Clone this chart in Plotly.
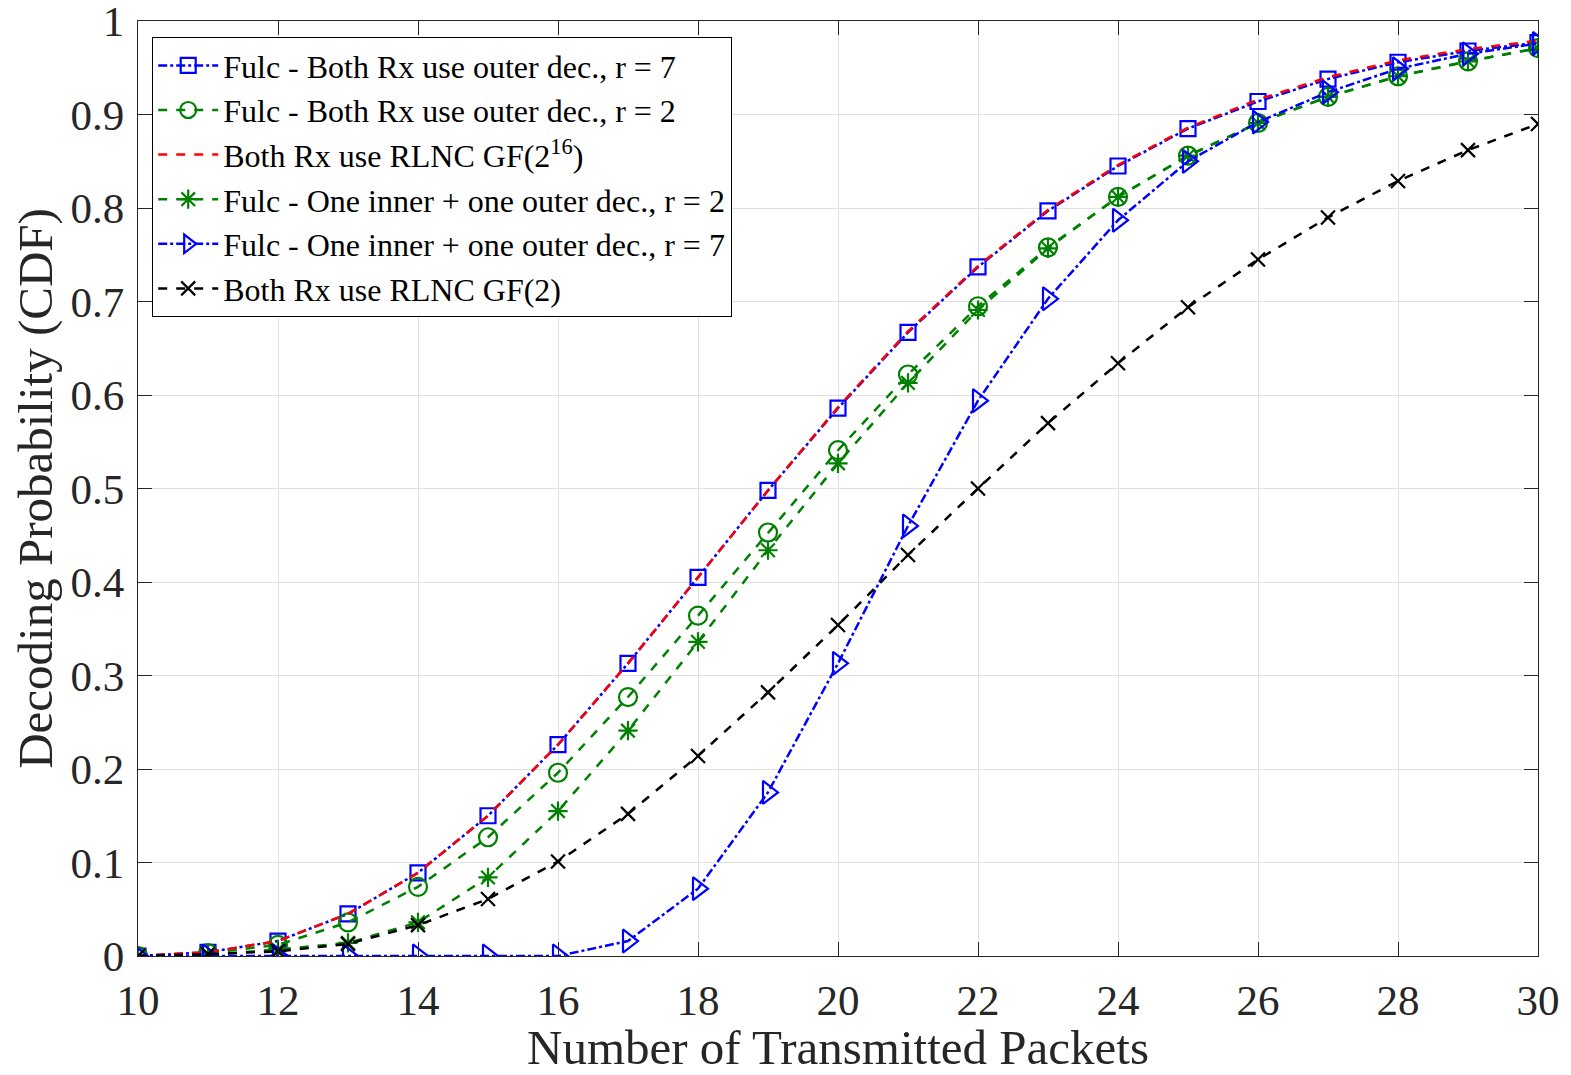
import plotly.graph_objects as go

# Number of transmitted packets
packets = list(range(10, 31))

# Decoding probability (CDF) for each scheme
fulc_outer_r7 = [0.0, 0.004, 0.016, 0.045, 0.089, 0.150, 0.226, 0.313, 0.405, 0.498,
                 0.586, 0.667, 0.737, 0.797, 0.845, 0.885, 0.914, 0.938, 0.956, 0.968, 0.977]
fulc_outer_r2 = [0.0, 0.003, 0.012, 0.036, 0.074, 0.127, 0.196, 0.277, 0.364, 0.453,
                 0.541, 0.622, 0.695, 0.758, 0.812, 0.856, 0.891, 0.919, 0.941, 0.957, 0.971]
rlnc_gf216 = [0.0, 0.004, 0.016, 0.045, 0.089, 0.150, 0.226, 0.313, 0.405, 0.498,
              0.587, 0.668, 0.738, 0.798, 0.846, 0.886, 0.916, 0.940, 0.958, 0.970, 0.979]
fulc_inner_outer_r2 = [0.0, 0.001, 0.007, 0.014, 0.036, 0.084, 0.155, 0.241, 0.336, 0.434,
                       0.527, 0.613, 0.691, 0.757, 0.812, 0.856, 0.891, 0.919, 0.941, 0.957, 0.971]
fulc_inner_outer_r7 = [0.0, 0.0, 0.0, 0.0, 0.0, 0.0, 0.0, 0.016, 0.072, 0.175,
                       0.313, 0.460, 0.594, 0.703, 0.787, 0.850, 0.892, 0.924, 0.949, 0.965, 0.976]
rlnc_gf2 = [0.0, 0.002, 0.005, 0.013, 0.033, 0.061, 0.101, 0.152, 0.214, 0.282,
            0.354, 0.429, 0.500, 0.570, 0.634, 0.694, 0.745, 0.790, 0.829, 0.862, 0.890]

x_ticks = list(range(10, 31, 2))
y_ticks = [0, 0.1, 0.2, 0.3, 0.4, 0.5, 0.6, 0.7, 0.8, 0.9, 1.0]
y_tick_labels = ["0", "0.1", "0.2", "0.3", "0.4", "0.5", "0.6", "0.7", "0.8", "0.9", "1"]

BLUE = "#0000FF"
GREEN = "#008000"
RED = "#FF0000"
BLACK = "#000000"
INK = "#262626"
SERIF = "Liberation Serif"

series = [
    ("Fulc - Both Rx use outer dec., r = 7", fulc_outer_r7, BLUE, "dashdot", "square-open", 15),
    ("Fulc - Both Rx use outer dec., r = 2", fulc_outer_r2, GREEN, "dash", "circle-open", 18),
    ("Both Rx use RLNC GF(2<sup>16</sup>)", rlnc_gf216, RED, "dash", None, 0),
    ("Fulc - One inner + one outer dec., r = 2", fulc_inner_outer_r2, GREEN, "dash", "asterisk-open", 16),
    ("Fulc - One inner + one outer dec., r = 7", fulc_inner_outer_r7, BLUE, "dashdot", "triangle-right-open", 20),
    ("Both Rx use RLNC GF(2)", rlnc_gf2, BLACK, "dash", "x-thin-open", 14),
]

fig = go.Figure()
for name, vals, color, dash, symbol, size in series:
    if symbol is None:
        fig.add_trace(go.Scatter(
            x=packets, y=vals, name=name, mode="lines",
            line=dict(color=color, dash=dash, width=2.5),
        ))
    else:
        fig.add_trace(go.Scatter(
            x=packets, y=vals, name=name, mode="lines+markers",
            line=dict(color=color, dash=dash, width=2.5),
            marker=dict(symbol=symbol, size=size, color=color,
                        line=dict(color=color, width=2.2)),
        ))

axis_common = dict(
    showline=True, linecolor=INK, linewidth=1.2, mirror="allticks",
    ticks="inside", ticklen=14, tickcolor=INK, tickwidth=1.2,
    showgrid=True, gridcolor="#E0E0E0", gridwidth=1.2,
    zeroline=False, ticklabeloverflow="allow", automargin=False,
    tickfont=dict(family=SERIF, size=43, color=INK),
)

fig.update_xaxes(
    range=[10, 30], tickvals=x_ticks, ticklabelstandoff=6,
    title=dict(text="Number of Transmitted Packets",
               font=dict(family=SERIF, size=49, color=INK),
               standoff=12),
    **axis_common,
)
fig.update_yaxes(
    range=[0, 1.0001], tickvals=y_ticks, ticktext=y_tick_labels, ticklabelstandoff=4,
    title=dict(text="Decoding Probability (CDF)",
               font=dict(family=SERIF, size=49, color=INK),
               standoff=2),
    **axis_common,
)

fig.update_layout(
    width=1571, height=1075,
    margin=dict(l=138, r=33, t=21, b=119),
    plot_bgcolor="white", paper_bgcolor="white",
    showlegend=True,
    legend=dict(
        x=0.01, y=0.983, xanchor="left", yanchor="top",
        bgcolor="white", bordercolor="black", borderwidth=1.2,
        font=dict(family=SERIF, size=32, color="black"),
        itemwidth=60, tracegroupgap=0,
    ),
)

fig.write_html("out.html")
